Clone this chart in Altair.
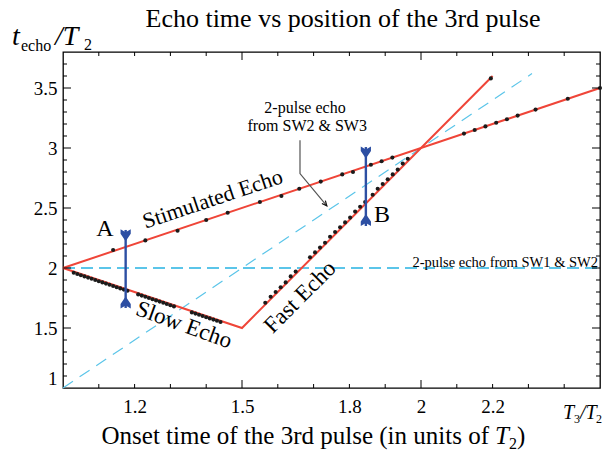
import altair as alt
import pandas as pd

SERIF = "Liberation Serif"
RED = "#EF4538"
CYAN = "#5BC5E9"
BLUE = "#2D4FA3"
DOT = "#1B1B1B"

W, H = 537, 336

# fitted echo lines (T3/T2 -> t_echo/T2)
stim_x = [1.0, 2.5]
stim_y = [2.0, 3.5]
slowfast_x = [1.0, 1.5, 2.2]
slowfast_y = [2.0, 1.5, 3.6]
sw23_x = [1.0, 2.31]
sw23_y = [1.0, 3.62]
sw12_x = [1.0, 2.5]
sw12_y = [2.0, 2.0]

# measured echo positions
stim_pts_x = [1.14, 1.23, 1.32, 1.40, 1.46, 1.55, 1.61, 1.66, 1.72, 1.78, 1.81, 1.86,
              1.89, 1.92, 2.12, 2.15, 2.18, 2.21, 2.24, 2.27, 2.32, 2.41, 2.50]
stim_pts_y = [2.15, 2.23, 2.31, 2.40, 2.46, 2.55, 2.60, 2.66, 2.72, 2.78, 2.80, 2.86,
              2.89, 2.92, 3.12, 3.15, 3.18, 3.21, 3.24, 3.27, 3.32, 3.41, 3.50]

slow_pts_x = [1.03, 1.04, 1.05, 1.06, 1.07, 1.08, 1.09, 1.10, 1.11, 1.12, 1.13, 1.14,
              1.15, 1.16, 1.17, 1.18,
              1.21, 1.22, 1.23, 1.24, 1.25, 1.26, 1.27, 1.28, 1.29, 1.30, 1.31,
              1.36, 1.37, 1.38, 1.39, 1.40, 1.41, 1.42, 1.43, 1.44]
slow_pts_y = [1.96, 1.95, 1.94, 1.93, 1.92, 1.91, 1.90, 1.89, 1.88, 1.87, 1.86, 1.85,
              1.84, 1.83, 1.82, 1.81,
              1.78, 1.77, 1.76, 1.75, 1.74, 1.73, 1.72, 1.71, 1.70, 1.69, 1.68,
              1.63, 1.62, 1.61, 1.60, 1.59, 1.58, 1.57, 1.56, 1.55]

fast_pts_x = [1.565, 1.58, 1.594, 1.608, 1.622, 1.636, 1.65,
              1.69, 1.704, 1.718, 1.732, 1.746, 1.76, 1.774, 1.788, 1.802, 1.816, 1.83, 1.844,
              1.865, 1.879, 1.893, 1.907, 1.921, 1.935, 1.949, 1.963, 2.195]
fast_pts_y = [1.71, 1.76, 1.80, 1.84, 1.88, 1.93, 1.97,
              2.09, 2.13, 2.17, 2.21, 2.26, 2.30, 2.34, 2.38, 2.42, 2.47, 2.51, 2.55,
              2.61, 2.66, 2.70, 2.74, 2.78, 2.82, 2.87, 2.91, 3.58]

# vertical markers A and B: x, top, bottom, upper head, lower head
marker_x = [1.175, 1.846]
marker_top = [2.317, 3.008]
marker_bottom = [1.667, 2.35]
marker_head_top = [2.272, 2.962]
marker_head_bottom = [1.712, 2.40]

# pointer from the SW2 & SW3 caption to its dashed line
pointer_x = [1.662, 1.662, 1.737]
pointer_y = [3.064, 2.787, 2.518]

# axis ticks
x_tick_labels = [1.2, 1.5, 1.8, 2, 2.2]
y_tick_labels = [1, 1.5, 2, 2.5, 3, 3.5]
x_minor = [1.1, 1.2, 1.3, 1.4, 1.6, 1.7, 1.8, 1.9, 2.1, 2.2, 2.3, 2.4]
x_major = [1.5, 2.0]
y_minor = [1.1, 1.2, 1.3, 1.4, 1.6, 1.7, 1.8, 1.9, 2.1, 2.2, 2.3, 2.4, 2.6, 2.7, 2.8,
           2.9, 3.1, 3.2, 3.3, 3.4, 3.6, 3.7]
y_major = [1.5, 2.0, 2.5, 3.0, 3.5]

xs = alt.Scale(domain=[1, 2.5], nice=False, zero=False)
ys = alt.Scale(domain=[1, 3.8], nice=False, zero=False)

x_axis = alt.Axis(values=x_tick_labels, format=".1~f", ticks=False, domain=False,
                  grid=False, title=None, labelPadding=9)
y_axis = alt.Axis(values=y_tick_labels, format=".1~f", ticks=False, domain=False,
                  grid=False, title=None, labelPadding=6, labelFlush=True)


def X(field="x"):
    return alt.X(f"{field}:Q", scale=xs, axis=x_axis)


def Y(field="y"):
    return alt.Y(f"{field}:Q", scale=ys, axis=y_axis)


def path_df(xv, yv):
    return pd.DataFrame({"x": xv, "y": yv, "i": list(range(len(xv)))})


def line(xv, yv, color, width, dash=None):
    kw = dict(color=color, strokeWidth=width)
    if dash:
        kw["strokeDash"] = dash
    return alt.Chart(path_df(xv, yv)).mark_line(**kw).encode(x=X(), y=Y(), order="i:Q")


sw12 = line(sw12_x, sw12_y, CYAN, 2, [12, 6])
sw23 = line(sw23_x, sw23_y, CYAN, 1.2, [12, 8])
stim = line(stim_x, stim_y, RED, 2)
slowfast = line(slowfast_x, slowfast_y, RED, 2)

pts = pd.concat([
    pd.DataFrame({"x": stim_pts_x, "y": stim_pts_y}),
    pd.DataFrame({"x": slow_pts_x, "y": slow_pts_y}),
    pd.DataFrame({"x": fast_pts_x, "y": fast_pts_y}),
])
dots = alt.Chart(pts).mark_circle(color=DOT, size=17, opacity=1).encode(x=X(), y=Y())

markers = pd.DataFrame({"x": marker_x, "top": marker_top, "bottom": marker_bottom,
                        "ht": marker_head_top, "hb": marker_head_bottom})
marker_lines = alt.Chart(markers).mark_rule(color=BLUE, strokeWidth=2.4).encode(
    x=X(), y=Y("top"), y2="bottom:Q")
# notched arrowheads pointing toward the middle of each marker
head_down = alt.Chart(markers).mark_point(
    shape="M-0.85,-1 L0,-0.5 L0.85,-1 L0.85,-0.25 L0,1 L-0.85,-0.25 Z",
    filled=True, color=BLUE, size=144, opacity=1
).encode(x=X(), y=Y("ht"))
head_up = alt.Chart(markers).mark_point(
    shape="M-0.85,1 L0,0.5 L0.85,1 L0.85,0.25 L0,-1 L-0.85,0.25 Z",
    filled=True, color=BLUE, size=144, opacity=1
).encode(x=X(), y=Y("hb"))

pointer = line(pointer_x, pointer_y, "#555555", 1.2)
pointer_head = alt.Chart(pd.DataFrame({"x": pointer_x[-1:], "y": pointer_y[-1:]})).mark_point(
    shape="M-0.45,-1 L0,0 L0.45,-1", filled=False, color="#111111", strokeWidth=1.2,
    size=100, angle=320, opacity=1
).encode(x=X(), y=Y())


def label(text, x, y, size, angle=0, align="center", baseline="middle", italic=False):
    kw = dict(font=SERIF, fontSize=size, align=align, baseline=baseline, color="black")
    if angle:
        kw["angle"] = angle
    if italic:
        kw["fontStyle"] = "italic"
    return alt.Chart(pd.DataFrame({"x": [x], "y": [y], "t": [text]})).mark_text(**kw).encode(
        x=X(), y=Y(), text="t:N")


labels = [
    label("A", 1.117, 2.325, 24),
    label("B", 1.891, 2.442, 24),
    label("Stimulated Echo", 1.418, 2.575, 22, angle=341.5),
    label("Slow Echo", 1.338, 1.525, 23, angle=20),
    label("Fast Echo", 1.662, 1.758, 23, angle=315),
    label("2-pulse echo from SW1 & SW2", 1.976, 2.012, 14.5, align="left",
          baseline="alphabetic"),
    label("2-pulse echo", 1.676, 3.333, 16),
    label("from SW2 & SW3", 1.682, 3.183, 16),
]


def page_text(text, px, py, size, align="left", italic=False):
    kw = dict(font=SERIF, fontSize=size, align=align, baseline="alphabetic", color="black")
    if italic:
        kw["fontStyle"] = "italic"
    return alt.Chart(pd.DataFrame({"t": [text]})).mark_text(**kw).encode(
        x=alt.value(px), y=alt.value(py), text="t:N")


page = [
    page_text("Echo time vs position of the 3rd pulse", 280, -25, 26, align="center"),
    # y title: t_echo / T_2
    page_text("t", -51, -7, 28, italic=True),
    page_text("echo", -42, -1, 16),
    page_text("/T", -8, -7, 28, italic=True),
    page_text("2", 21, -2, 16),
    # x title
    page_text("Onset time of the 3rd pulse (in units of", 426, 392, 25, align="right"),
    page_text("T", 432, 392, 25, italic=True),
    page_text("2", 446, 397, 16),
    page_text(")", 454, 392, 25),
    # x unit: T_3 / T_2
    page_text("T", 500, 367, 20, italic=True),
    page_text("3", 511, 371, 12),
    page_text("/T", 517, 367, 20, italic=True),
    page_text("2", 533, 371, 12),
]


def tick_layer(values, length, side):
    df = pd.DataFrame({"v": values})
    m = alt.Chart(df).mark_rule(color="black", strokeWidth=1)
    if side == "bottom":
        return m.encode(x=X("v"), y=alt.value(H), y2=alt.value(H - length))
    if side == "top":
        return m.encode(x=X("v"), y=alt.value(0), y2=alt.value(length))
    if side == "left":
        return m.encode(y=Y("v"), x=alt.value(0), x2=alt.value(length))
    return m.encode(y=Y("v"), x=alt.value(W), x2=alt.value(W - length))


ticks = []
for side in ("bottom", "top"):
    ticks.append(tick_layer(x_minor, 4, side))
    ticks.append(tick_layer(x_major, 8, side))
for side in ("left", "right"):
    ticks.append(tick_layer(y_minor, 4, side))
    ticks.append(tick_layer(y_major, 8, side))

chart = alt.layer(
    sw12, sw23, stim, slowfast, pointer, pointer_head, dots,
    marker_lines, head_down, head_up, *labels, *ticks, *page
).properties(
    width=W, height=H,
    autosize=alt.AutoSizeParams(type="none"),
    padding={"left": 63, "top": 52, "right": 5, "bottom": 66},
    background="white",
).configure_view(
    stroke="black", strokeWidth=1.3
).configure_axis(
    labelFont=SERIF, labelFontSize=19, labelColor="black"
)

chart.save("out.html", embed_options={"renderer": "svg", "actions": False})
